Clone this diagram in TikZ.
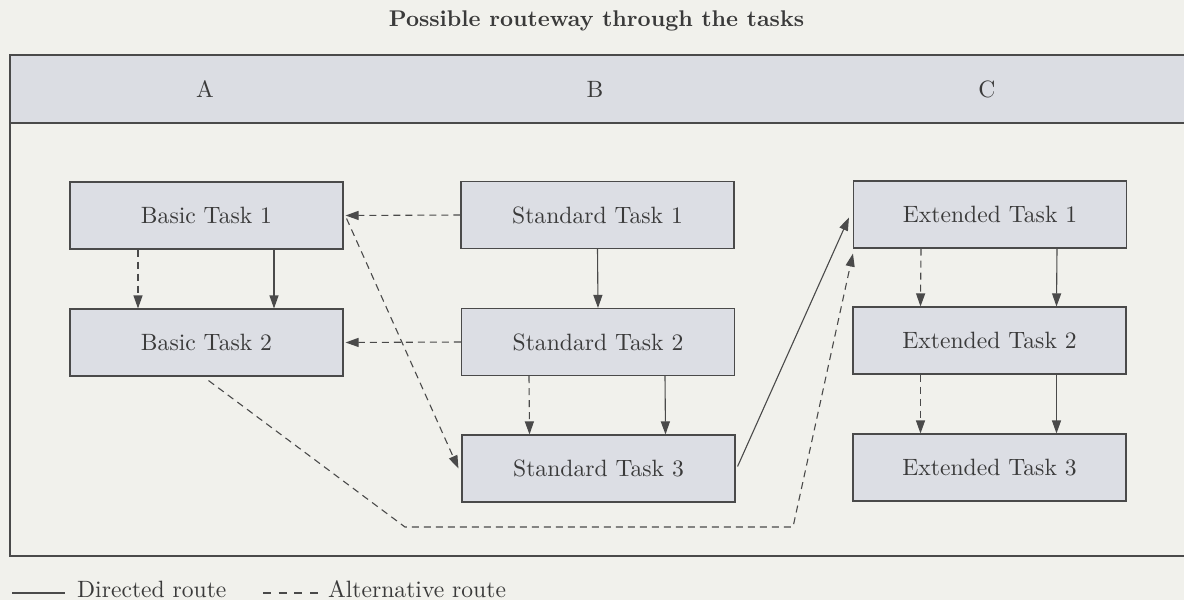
\documentclass[tikz,border=0pt]{standalone}
\usepackage{fontspec}
\setmainfont{lmroman10-regular}[Extension=.otf, BoldFont=lmroman10-bold, ItalicFont=lmroman10-italic, BoldItalicFont=lmroman10-bolditalic]
\usetikzlibrary{arrows.meta}
\definecolor{bg}{HTML}{F1F1EC}
\definecolor{boxfill}{HTML}{DCDEE4}
\definecolor{hdrfill}{HTML}{DBDDE3}
\definecolor{ln}{HTML}{4A4A4A}
\definecolor{txt}{HTML}{3A3A3A}
\begin{document}
\begin{tikzpicture}[x=1pt,y=-1pt,
  lbl/.style={text=txt, inner sep=0pt, font=\fontsize{23.6}{28}\selectfont},
  taskbox/.style={lbl, draw=ln, line width=1.1pt, fill=boxfill, minimum width=273pt, minimum height=67pt},
  directed/.style={draw=ln, line width=1.1pt, -{Triangle[length=13pt,width=9pt]}},
  alt/.style={directed, dash pattern=on 7pt off 5pt},
  frame/.style={draw=ln, line width=1.2pt}
]
\useasboundingbox (0,0) rectangle (1184,600);
\clip (0,0) rectangle (1184,600);
\fill[bg] (0,0) rectangle (1184,600);

% title
\node[lbl, font=\fontsize{22.7}{27}\selectfont\bfseries] (title) at (596.5,21) {Possible routeway through the tasks};

% frame and header band
\filldraw[frame, fill=hdrfill] (10,55) rectangle (1200,123);
\draw[frame] (10,55) rectangle (1200,556);
\node[lbl] (hA) at (205,89) {A};
\node[lbl] (hB) at (595,89) {B};
\node[lbl] (hC) at (987,89) {C};

% task boxes
\node[taskbox] (b1) at (206.5,215.5) {Basic Task 1};
\node[taskbox] (b2) at (206.5,342.5) {Basic Task 2};
\node[taskbox] (s1) at (597.5,215) {Standard Task 1};
\node[taskbox] (s2) at (598,342) {Standard Task 2};
\node[taskbox] (s3) at (598.5,468.5) {Standard Task 3};
\node[taskbox] (e1) at (990,214.5) {Extended Task 1};
\node[taskbox] (e2) at (989.5,340.5) {Extended Task 2};
\node[taskbox] (e3) at (989.5,467.5) {Extended Task 3};

% vertical arrows
\draw[alt] ([xshift=-68.5pt]b1.south) -- ([xshift=-68.5pt]b2.north);
\draw[directed] ([xshift=67.5pt]b1.south) -- ([xshift=67.5pt]b2.north);
\draw[directed] (s1.south) -- (s2.north);
\draw[alt] ([xshift=-69pt]s2.south) -- ([xshift=-69pt]s3.north);
\draw[directed] ([xshift=67pt]s2.south) -- ([xshift=67pt]s3.north);
\draw[alt] ([xshift=-69pt]e1.south) -- ([xshift=-69pt]e2.north);
\draw[directed] ([xshift=67pt]e1.south) -- ([xshift=67pt]e2.north);
\draw[alt] ([xshift=-69pt]e2.south) -- ([xshift=-69pt]e3.north);
\draw[directed] ([xshift=67pt]e2.south) -- ([xshift=67pt]e3.north);

% horizontal alternative routes
\draw[alt] (s1.west) -- ([xshift=2pt]b1.east);
\draw[alt] (s2.west) -- ([xshift=2pt]b2.east);

% diagonal routes
\draw[alt] ([xshift=3pt,yshift=-3pt]b1.east) -- ([xshift=-3pt]s3.west);
\draw[directed] ([xshift=2pt,yshift=2pt]s3.east) -- ([xshift=-4pt,yshift=-3pt]e1.west);
\coordinate (q1) at (405,527);
\coordinate (q2) at (793,527);
\draw[alt] ([xshift=2pt,yshift=-4pt]b2.south) -- (q1) -- (q2) -- ([yshift=-5pt]e1.south west);

% legend
\coordinate (l1a) at (12,593);
\coordinate (l1b) at (65,593);
\draw[draw=ln, line width=1.1pt] (l1a) -- (l1b);
\node[lbl, anchor=base west] (leg1) at (77,597) {Directed route};
\coordinate (l2a) at (263,593);
\coordinate (l2b) at (318,593);
\draw[draw=ln, line width=1.1pt, dash pattern=on 8pt off 7.67pt] (l2a) -- (l2b);
\node[lbl, anchor=base west] (leg2) at (328,597) {Alternative route};
\end{tikzpicture}
\end{document}
